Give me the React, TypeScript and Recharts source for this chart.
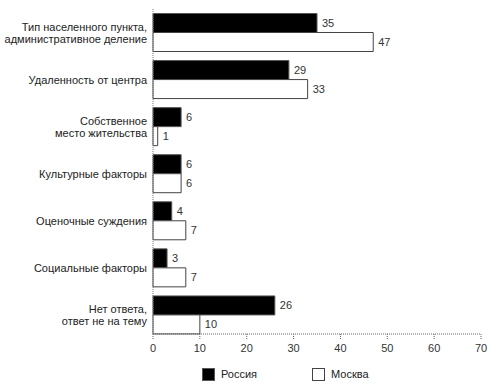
import React from 'react';
import { BarChart, Bar, XAxis, YAxis, Legend, LabelList } from 'recharts';

const categories = [
  'Тип населенного пункта,\nадминистративное деление',
  'Удаленность от центра',
  'Собственное\nместо жительства',
  'Культурные факторы',
  'Оценочные суждения',
  'Социальные факторы',
  'Нет ответа,\nответ не на тему',
];
const russia = [35, 29, 6, 6, 4, 3, 26];
const moscow = [47, 33, 1, 6, 7, 7, 10];
const xTicks = [0, 10, 20, 30, 40, 50, 60, 70];

const data = categories.map((name, i) => ({ name, russia: russia[i], moscow: moscow[i] }));

const font = '"Liberation Sans", Arial, Helvetica, sans-serif';

const CategoryTick = (props: any) => {
  const { x, y, payload } = props;
  const lines: string[] = String(payload.value).split('\n');
  const startDy = lines.length === 1 ? 4 : -2;
  return (
    <text x={x} y={y} textAnchor="end" fontSize={11} fill="#222" fontFamily={font}>
      {lines.map((line, i) => (
        <tspan key={i} x={x} dy={i === 0 ? startDy : 12}>
          {line}
        </tspan>
      ))}
    </text>
  );
};

const LegendBox = () => (
  <div style={{ position: 'relative', height: 16, fontFamily: font, fontSize: 11, color: '#222' }}>
    <div style={{ position: 'absolute', left: 202, top: 1, width: 13, height: 13, background: '#000', border: '1px solid #555', boxSizing: 'border-box' }} />
    <span style={{ position: 'absolute', left: 221, top: 1 }}>Россия</span>
    <div style={{ position: 'absolute', left: 312, top: 1, width: 13, height: 13, background: '#fff', border: '1px solid #444', boxSizing: 'border-box' }} />
    <span style={{ position: 'absolute', left: 331, top: 1 }}>Москва</span>
  </div>
);

export default function App() {
  return (
    <div style={{ position: 'absolute', left: 0, top: 0, width: 500, height: 391, background: '#fff' }}>
      <BarChart
        width={500}
        height={391}
        data={data}
        layout="vertical"
        margin={{ top: 9, right: 19, bottom: 27, left: 0 }}
        barCategoryGap={4.5}
        barGap={0}
      >
        <XAxis
          type="number"
          domain={[0, 70]}
          ticks={xTicks}
          interval={0}
          tickSize={5}
          tickMargin={5}
          stroke="#666"
          strokeDasharray="1 1"
          tick={{ fontSize: 11, fill: '#333', fontFamily: font }}
        />
        <YAxis
          type="category"
          dataKey="name"
          width={153}
          tickLine={false}
          tickSize={0}
          tickMargin={6}
          stroke="#777"
          strokeDasharray="1 1"
          padding={{ top: 0, bottom: -4.5 }}
          tick={<CategoryTick />}
          interval={0}
        />
        <Legend
          verticalAlign="middle"
          layout="horizontal"
          content={<LegendBox />}
          wrapperStyle={{ position: 'absolute', left: 0, top: 367, width: 500 }}
        />
        <Bar dataKey="russia" name="Россия" fill="#000" stroke="#555" strokeWidth={1} isAnimationActive={false}>
          <LabelList dataKey="russia" position="right" offset={5} fontSize={11} fill="#333" fontFamily={font} />
        </Bar>
        <Bar dataKey="moscow" name="Москва" fill="#fff" stroke="#444" strokeWidth={1} isAnimationActive={false}>
          <LabelList dataKey="moscow" position="right" offset={5} fontSize={11} fill="#333" fontFamily={font} />
        </Bar>
      </BarChart>
    </div>
  );
}
